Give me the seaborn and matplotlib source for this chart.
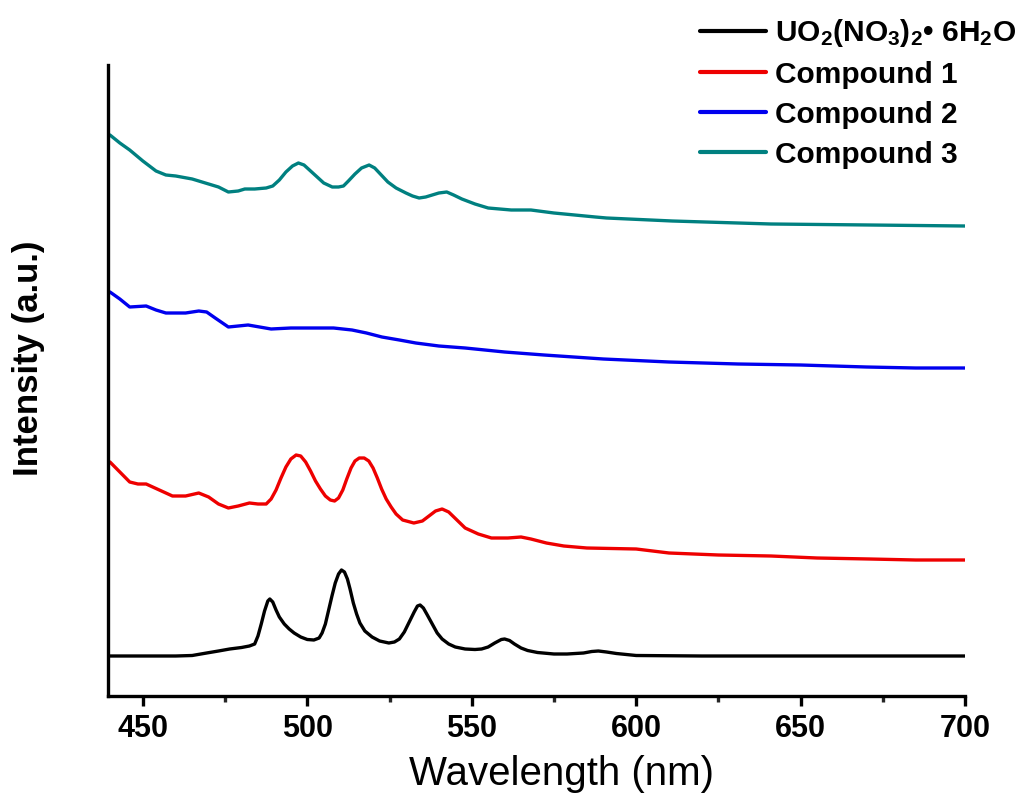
import numpy as np
import pandas as pd
import matplotlib
matplotlib.use("Agg")
import matplotlib.pyplot as plt
import seaborn as sns
from matplotlib.ticker import MultipleLocator

sns.set_theme(style="white")
plt.rcParams['font.family'] = ['Liberation Sans', 'DejaVu Sans']
plt.rcParams['text.color'] = 'black'
plt.rcParams['axes.labelcolor'] = 'black'
plt.rcParams['mathtext.fontset'] = 'custom'
plt.rcParams['mathtext.rm'] = 'Liberation Sans:bold'
plt.rcParams['mathtext.bf'] = 'Liberation Sans:bold'
plt.rcParams['mathtext.it'] = 'Liberation Sans:bold'

# ---------------- data ----------------
wl_uranyl = [440, 450, 460, 465, 469.4, 473, 476.4, 480, 482.4, 484, 485, 486, 487, 488, 488.6,
             489.5, 490.5, 491.5, 493, 494.5, 496, 498, 500, 502, 503.6, 504.5, 505.5, 506.5,
             507.5, 508.5, 509.5, 510.4, 511.3, 512.2, 513, 514, 515, 516, 517.5, 519.7, 522,
             524.8, 526.5, 528, 529.5, 531, 532.5, 533.5, 534.3, 535.3, 536.5, 538, 539.5,
             541, 543, 545, 548, 551, 553, 555, 557, 559, 560, 561.5, 563, 565, 567, 570,
             575, 579, 584, 586.5, 588.5, 591, 594, 597, 600, 620, 650, 675, 700]
int_uranyl = [40, 40, 40, 40.5, 43, 45, 47, 48.5, 50, 52, 60, 72, 85, 95, 97,
              94, 86, 79, 72, 67, 63, 59, 56.5, 56, 58, 63, 72, 86,
              100, 113, 122, 126, 124, 117, 107, 93, 82, 73, 65, 59, 55,
              53, 54, 57, 64, 74, 84, 90, 91, 88, 81, 72, 63,
              57, 52, 49, 47, 46.5, 47, 49, 53, 56.5, 57, 55.5, 52, 48, 45.5, 43.5,
              42, 42, 43, 44.5, 45, 44, 42.5, 41.5, 40.5, 40, 40, 40, 40]

wl_c1 = [440, 443, 446, 448.5, 451, 455, 459, 463, 467, 470, 473, 476, 479, 482.4, 485,
         487.5, 489, 490.5, 492, 493.5, 495, 496.6, 498, 499.5, 501, 502.5, 504, 505.5,
         507, 508.3, 509.5, 510.8, 512, 513.3, 514.5, 515.8, 517.3, 518.7, 520, 521.3,
         522.6, 524, 525.5, 527, 529, 532.4, 535, 537, 539, 541, 543, 545.5, 548, 552,
         556, 561, 565, 568, 572.7, 578, 585, 600, 610, 625, 641, 655, 671, 685, 700]
int_c1 = [234, 224, 214, 212, 212, 206, 200, 200, 203, 199, 192, 188, 190, 193, 192,
          192, 197, 206, 218, 229, 237, 241, 240, 234, 225, 215, 207, 200,
          196, 195, 198, 206, 217, 228, 235, 238, 238, 235, 228, 218,
          207, 197, 189, 182, 176, 173, 175, 180, 185, 187, 184, 176, 168, 162,
          158, 158, 159, 157, 153, 150, 148, 147, 143, 141, 140, 138, 137, 136, 136]

wl_c2 = [440, 443, 446, 451, 454, 457, 463, 467, 469.4, 472, 476, 479, 482, 489, 495,
         502.7, 508, 513.6, 518, 522.7, 528, 533, 540, 548, 560, 572, 590, 610, 631,
         650, 670, 685, 700]
int_c2 = [404, 397, 389, 390, 386, 383, 383, 385, 384, 378, 369, 370, 371, 367, 368,
          368, 368, 366, 363, 359, 356, 353, 350, 348, 344, 341, 337, 334, 332,
          331, 329, 328, 328]

wl_c3 = [440, 443, 446, 450, 454, 457, 460, 465, 469, 473, 476, 479, 481, 484, 487.5,
         489.5, 491.5, 493.5, 495.5, 497.3, 499, 501, 503, 505, 507.6, 509.5, 511, 512.5,
         514.5, 516.5, 518.8, 520.5, 522.5, 524.5, 527, 530, 532, 534, 536, 538, 540,
         542.4, 544.5, 547, 551, 555, 562, 568, 575, 587.6, 591, 611, 641, 671, 700]
int_c3 = [561, 553, 546, 535, 525, 521, 520, 517, 513, 509, 504, 505, 507, 507, 508,
          510, 516, 524, 530, 533, 531, 525, 519, 513, 509, 509, 510, 515,
          522, 528, 531, 528, 521, 514, 508, 503, 500, 498, 499, 501, 503,
          504, 501, 497, 492, 488, 486, 486, 483, 479, 478, 475, 472, 471, 470]

labels = [r"UO$_2$(NO$_3$)$_2$• 6H$_2$O", "Compound 1", "Compound 2", "Compound 3"]
colors = ["#000000", "#ee0000", "#0000ee", "#008080"]
x_ticks = [450, 500, 550, 600, 650, 700]

series = [(wl_uranyl, int_uranyl), (wl_c1, int_c1), (wl_c2, int_c2), (wl_c3, int_c3)]

# ---------------- plot ----------------
fig = plt.figure(figsize=(10.35, 7.95), dpi=100)
ax = fig.add_axes([108/1035, 1-696/795, (965-108)/1035, (696-65)/795])

for (wl, it), lab, col in zip(series, labels, colors):
    df = pd.DataFrame({"wl": wl, "I": it})
    sns.lineplot(data=df, x="wl", y="I", color=col, label=lab, ax=ax,
                 linewidth=2.4, estimator=None, sort=False)

ax.set_xlim(439.4, 700)
ax.set_ylim(0, 631)
ax.set_xticks(x_ticks)
ax.xaxis.set_minor_locator(MultipleLocator(25))
ax.set_yticks([])
for s in ["top", "right"]:
    ax.spines[s].set_visible(False)
for s in ["left", "bottom"]:
    ax.spines[s].set_linewidth(2.4)
    ax.spines[s].set_color("black")
ax.tick_params(axis="x", which="major", direction="out", length=7, width=2.4,
               labelsize=22, pad=6, bottom=True, colors="black")
ax.tick_params(axis="x", which="minor", direction="out", length=4.5, width=2.4, bottom=True)
for lab in ax.get_xticklabels():
    lab.set_fontweight("bold")

ax.set_xlabel("Wavelength (nm)", fontsize=29, fontweight="normal", color="black")
ax.xaxis.set_label_coords((562-108)/(965-108), -0.093)
ax.set_ylabel("Intensity (a.u.)", fontsize=25, fontweight="bold", color="black")
ax.yaxis.set_label_coords(-0.074, 0.536)

leg = ax.legend(loc="upper left", bbox_to_anchor=(700/1035, 1-17/795),
                bbox_transform=fig.transFigure, frameon=False,
                prop={"size": 21.5, "weight": "bold"}, handlelength=2.2,
                handletextpad=0.3, labelspacing=0.4, borderpad=0, borderaxespad=0)
for line in leg.get_lines():
    line.set_linewidth(3)
for t in leg.get_texts():
    t.set_color("black")

fig.savefig("out.png", dpi=100)
